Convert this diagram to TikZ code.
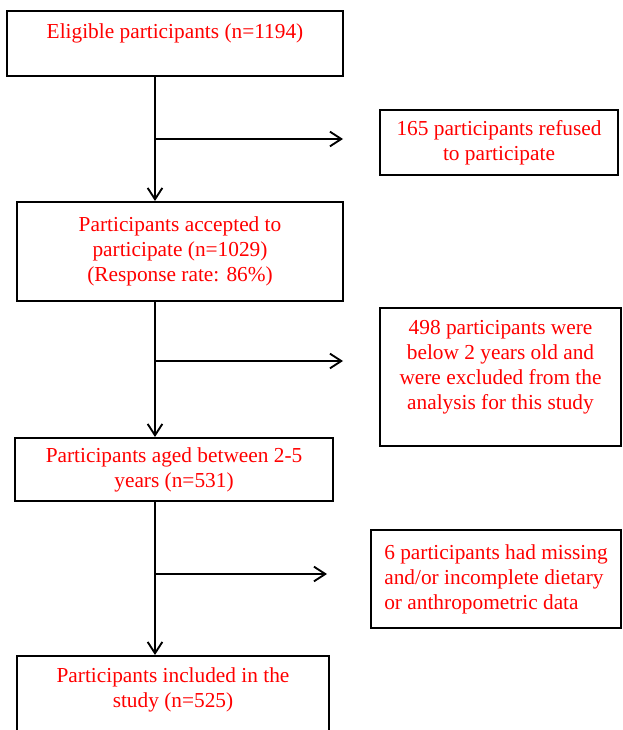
\documentclass[tikz,border=0pt]{standalone}
\usepackage{fontspec}
\setmainfont{Liberation Serif}
\usepackage{tikz}
\usetikzlibrary{arrows.meta}
\definecolor{FlowRed}{HTML}{FF0000}

\begin{document}
\begin{tikzpicture}[
  x=0.75pt, y=-0.75pt,
  block/.style={rectangle, draw=black, line width=1.5pt, text=FlowRed,
    align=center, inner sep=0pt, font=\fontsize{16}{18.75}\selectfont},
  side/.style={block, align=left},
  arrow/.style={-{Straight Barb[length=8.5pt,width=11pt]}, line width=1.4pt}
]
\clip (0,0) rectangle (622,730);

\node (n0) [block, minimum width=252pt, minimum height=48.75pt] at (175,43.5)
  {Eligible participants (n=1194)\\ \mbox{}};
\node (n1) [block, minimum width=244.5pt, minimum height=74.25pt] at (180,251.5)
  {Participants accepted to\\participate (n=1029)\\(Response rate: 86\%)};
\node (n2) [block, minimum width=238.5pt, minimum height=47.25pt] at (174,469.5)
  {Participants aged between 2-5\\years (n=531)};
\node (n3) [block, minimum width=234pt, minimum height=66pt] at (173,700)
  {Participants included in the\\study (n=525)\\ \mbox{}};

\node (x0) [block, minimum width=178.5pt, minimum height=48.75pt] at (499,142.5)
  {165 participants refused\\to participate};
\node (x1) [block, minimum width=180.75pt, minimum height=103.5pt] at (500.5,377)
  {498 participants were\\below 2 years old and\\were excluded from the\\analysis for this study\\ \mbox{}};
\node (x2) [side, minimum width=187.5pt, minimum height=73.5pt] at (496,579)
  {6 participants had missing\\and/or incomplete dietary\\or anthropometric data};

% branch points on the main line
\coordinate (s0) at (155,139);
\coordinate (t0) at (343,139);
\coordinate (s1) at (155,361);
\coordinate (t1) at (343,361);
\coordinate (s2) at (155,574);
\coordinate (t2) at (327,574);

\draw[arrow] (n0.south -| s0) -- (n1.north -| s0);
\draw[arrow] (n1.south -| s0) -- (n2.north -| s0);
\draw[arrow] (n2.south -| s0) -- (n3.north -| s0);
\draw[arrow] (s0) -- (t0);
\draw[arrow] (s1) -- (t1);
\draw[arrow] (s2) -- (t2);
\end{tikzpicture}
\end{document}
